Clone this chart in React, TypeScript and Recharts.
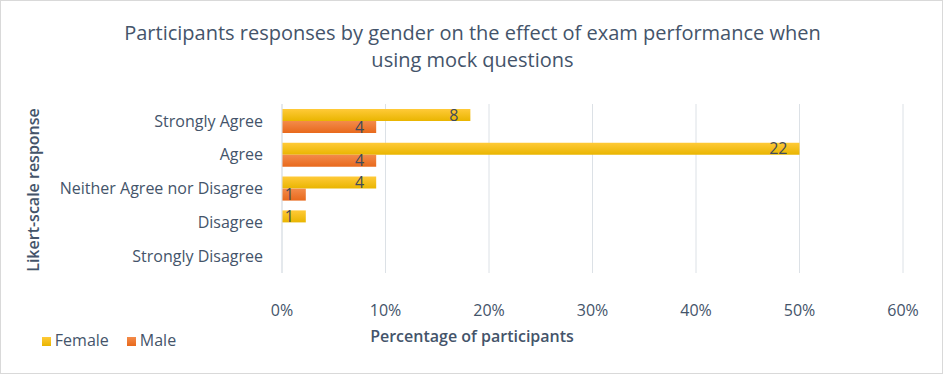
import { BarChart, Bar, XAxis, YAxis, CartesianGrid, LabelList, Legend } from "recharts";

const categories = [
  "Strongly Agree",
  "Agree",
  "Neither Agree nor Disagree",
  "Disagree",
  "Strongly Disagree",
];
// percentage of participants
const femalePct = [18.2, 50, 9.1, 2.3, 0];
const malePct = [9.1, 9.1, 2.3, 0, 0];
// counts printed on the bars
const femaleCount = [8, 22, 4, 1, null];
const maleCount = [4, 4, 1, null, null];
const xTicks = [0, 10, 20, 30, 40, 50, 60];

const data = categories.map((name, i) => ({
  name,
  Female: femalePct[i],
  Male: malePct[i],
  femaleCount: femaleCount[i],
  maleCount: maleCount[i],
}));

const FONT = "'Open Sans', 'Liberation Sans', sans-serif";
const TEXT = "#44546A";

export default function App() {
  return (
    <div
      style={{
        position: "relative",
        width: 943,
        height: 374,
        boxSizing: "border-box",
        border: "1px solid #D9D9D9",
        background: "#fff",
        fontFamily: FONT,
        color: TEXT,
      }}
    >
      <style>{"body{margin:0}"}</style>
      <div
        style={{
          position: "absolute",
          left: 0,
          top: 18,
          width: 943,
          textAlign: "center",
          fontSize: 20,
          fontWeight: 500,
          lineHeight: "27px",
        }}
      >
        Participants responses by gender on the effect of exam performance when
        <br />
        using mock questions
      </div>
      <BarChart
        width={941}
        height={372}
        data={data}
        layout="vertical"
        margin={{ top: 103, right: 39, bottom: 40, left: 21 }}
        barSize={12}
        barGap={0}
      >
        <defs>
          <linearGradient id="gFemale" x1="0" y1="0" x2="0" y2="1">
            <stop offset="0%" stopColor="#FFCA38" />
            <stop offset="100%" stopColor="#E9B500" />
          </linearGradient>
          <linearGradient id="gMale" x1="0" y1="0" x2="0" y2="1">
            <stop offset="0%" stopColor="#F38B4A" />
            <stop offset="100%" stopColor="#E8691C" />
          </linearGradient>
        </defs>
        <CartesianGrid horizontal={false} stroke="#DCE1E6" />
        <XAxis
          type="number"
          domain={[0, 60]}
          ticks={xTicks}
          tickFormatter={(v) => `${v}%`}
          axisLine={false}
          tickLine={false}
          tickMargin={26}
          height={60}
          tick={{ fill: TEXT, fontSize: 16, fontFamily: FONT }}
        />
        <YAxis
          type="category"
          dataKey="name"
          width={260}
          axisLine={{ stroke: "#DCE1E6" }}
          tickLine={false}
          tickSize={0}
          tickMargin={19}
          tick={{ fill: TEXT, fontSize: 16, fontFamily: FONT }}
        />
        <Legend
          layout="horizontal"
          verticalAlign="middle"
          align="center"
          iconType="square"
          iconSize={9}
          wrapperStyle={{
            left: 17,
            top: 328,
            width: 200,
            textAlign: "left",
            fontSize: 16,
            fontFamily: FONT,
          }}
          formatter={(v) => (
            <span style={{ color: TEXT, marginRight: 8 }}>{v}</span>
          )}
        />
        <Bar dataKey="Female" fill="url(#gFemale)" isAnimationActive={false}>
          <LabelList
            dataKey="femaleCount"
            position="insideRight"
            offset={12}
            fill="#3F4B5B"
            fontSize={16}
            fontFamily={FONT}
          />
        </Bar>
        <Bar dataKey="Male" fill="url(#gMale)" isAnimationActive={false}>
          <LabelList
            dataKey="maleCount"
            position="insideRight"
            offset={12}
            fill="#3F4B5B"
            fontSize={16}
            fontFamily={FONT}
          />
        </Bar>
      </BarChart>
      <div
        style={{
          position: "absolute",
          left: 471,
          top: 335,
          transform: "translate(-50%, -50%)",
          fontSize: 16,
          fontWeight: 600,
          whiteSpace: "nowrap",
        }}
      >
        Percentage of participants
      </div>
      <div
        style={{
          position: "absolute",
          left: 32,
          top: 189,
          transform: "translate(-50%, -50%) rotate(-90deg)",
          fontSize: 16,
          fontWeight: 600,
          whiteSpace: "nowrap",
        }}
      >
        Likert-scale response
      </div>
    </div>
  );
}
